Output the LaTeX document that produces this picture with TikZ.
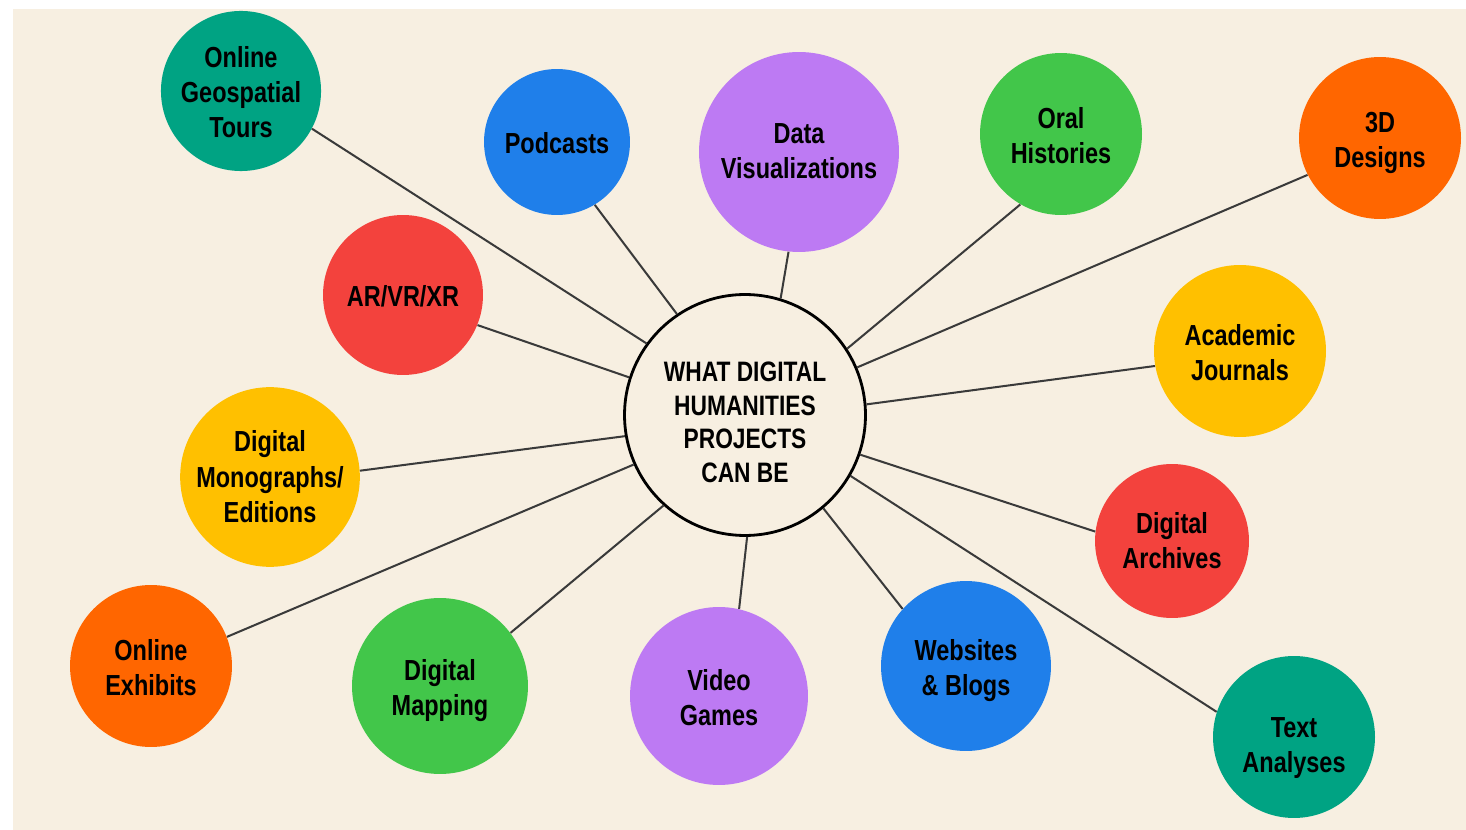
\documentclass[tikz,border=0pt]{standalone}
\usepackage{fontspec}
\newfontfamily\dhfont{Liberation Sans}[FakeStretch=0.81]
\usetikzlibrary{shapes}

\definecolor{cream}{HTML}{F7EFE1}
\definecolor{linegray}{HTML}{3A3A3A}
\definecolor{dhteal}{HTML}{00A383}
\definecolor{dhblue}{HTML}{1F7FEA}
\definecolor{dhpurple}{HTML}{BD7AF3}
\definecolor{dhgreen}{HTML}{42C64A}
\definecolor{dhorange}{HTML}{FF6600}
\definecolor{dhred}{HTML}{F3423D}
\definecolor{dhyellow}{HTML}{FFC000}

% invisible struts so every label sits on the middle of its capitals
\newcommand{\dhcap}[1][17pt]{\rule{0pt}{#1}}
\newcommand{\dhbottom}[1]{\rule[-#1]{0pt}{0pt}}

\begin{document}
\begin{tikzpicture}[x=0.02cm, y=-0.02cm,
  topic/.style={circle, fill=#1, inner sep=0pt, align=center, text=black,
    font=\dhfont\bfseries\fontsize{16.5}{20}\selectfont,
    execute at end node={\dhbottom{3.5pt}}},
  link/.style={draw=linegray, line width=1.15pt}]

% page and cream backdrop
\useasboundingbox[fill=white] (0,0) rectangle (1466,830);
\fill[cream] (13,9) rectangle (1466,830);

\node[circle, draw=black, line width=1.6pt, fill=cream, minimum size=4.82cm, inner sep=0pt,
  align=center, font=\dhfont\bfseries\fontsize{16}{19}\selectfont,
  execute at end node={\dhbottom{3.4pt}}] (hub) at (745,415)
  {\dhcap[22.7pt]WHAT DIGITAL\\HUMANITIES\\PROJECTS\\CAN BE};

\node[topic=dhteal,   minimum size=3.2cm]  (geo)      at (241,91)  {\dhcap Online\\Geospatial\\Tours};
\node[topic=dhblue,   minimum size=2.92cm] (podcasts) at (557,142) {\dhcap Podcasts};
\node[topic=dhpurple, minimum size=4.0cm]  (dataviz)  at (799,152) {\dhcap[14pt]Data\\Visualizations};
\node[topic=dhgreen,  minimum size=3.24cm] (oral)     at (1061,134) {\dhcap Oral\\Histories};
\node[topic=dhorange, minimum size=3.24cm] (design)   at (1380,138) {\dhcap 3D\\Designs};
\node[topic=dhred,    minimum size=3.2cm]  (xr)       at (403,295) {\dhcap AR/VR/XR};
\node[topic=dhyellow, minimum size=3.44cm] (journals) at (1240,351) {\dhcap Academic\\Journals};
\node[topic=dhyellow, minimum size=3.56cm] (mono)     at (270,477) {\dhcap[15pt]Digital\\Monographs/\\Editions};
\node[topic=dhred,    minimum size=3.08cm] (archives) at (1172,541) {\dhcap[15pt]Digital\\Archives};
\node[topic=dhorange, minimum size=3.24cm] (exhibits) at (151,666) {\dhcap Online\\Exhibits};
\node[topic=dhgreen,  minimum size=3.52cm] (mapping)  at (440,686) {\dhcap Digital\\Mapping};
\node[topic=dhpurple, minimum size=3.56cm] (games)    at (719,696) {\dhcap Video\\Games};
\node[topic=dhblue,   minimum size=3.4cm]  (blogs)    at (966,666) {\dhcap Websites\\\& Blogs};
\node[topic=dhteal,   minimum size=3.24cm] (text)     at (1294,737) {\dhcap[24pt]Text\\Analyses};

\draw[link] (hub.144) -- (geo.-28);
\draw[link] (hub.124) -- (podcasts.-59);
\draw[link] (hub.73) -- (dataviz.264);
\draw[link] (hub.33) -- (oral.240);
\draw[link] (hub.23) -- (design.207);
\draw[link] (hub.162) -- (xr.-22);
\draw[link] (hub.5.5) -- (journals.190);
\draw[link] (hub.190) -- (mono.4.5);
\draw[link] (hub.-19) -- (archives.173);
\draw[link] (hub.204) -- (exhibits.21);
\draw[link] (hub.228) -- (mapping.37);
\draw[link] (hub.271) -- (games.77);
\draw[link] (hub.-50) -- (blogs.138);
\draw[link] (hub.-30) -- (text.162);
\end{tikzpicture}
\end{document}
